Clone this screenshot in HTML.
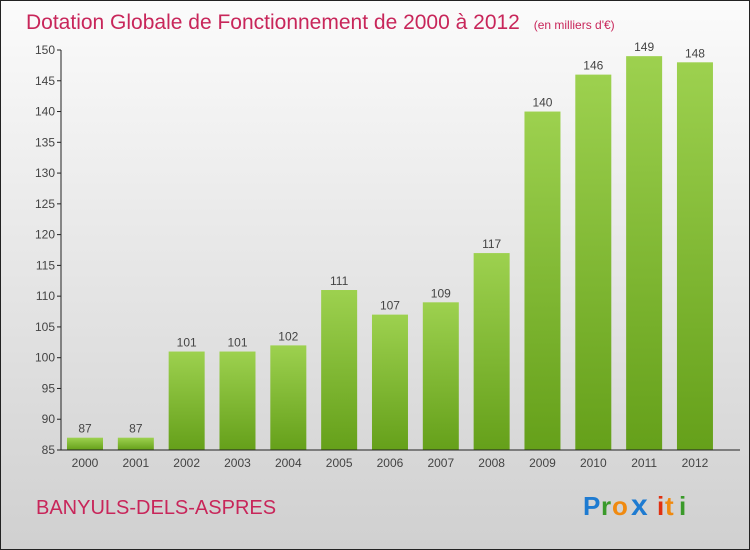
<!DOCTYPE html>
<html><head><meta charset="utf-8"><style>
body{margin:0;width:750px;height:550px;overflow:hidden}
svg{display:block;font-family:"Liberation Sans",sans-serif}
</style></head><body>
<svg id="c" width="750" height="550">
<defs>
<linearGradient id="bg" x1="0" y1="0" x2="0" y2="1"><stop offset="0" stop-color="#fbfbfb"/><stop offset="1" stop-color="#d0d0d0"/></linearGradient>
<linearGradient id="bar" x1="0" y1="0" x2="0" y2="1"><stop offset="0" stop-color="#9dd14f"/><stop offset="1" stop-color="#65a01a"/></linearGradient>
</defs>
<rect x="0.5" y="0.5" width="749" height="549" fill="url(#bg)" stroke="#222"/>
<text x="26" y="29" font-size="21" fill="#c8265a">Dotation Globale de Fonctionnement de 2000 à 2012 <tspan font-size="12" dx="8">(en milliers d'€)</tspan></text>
<text x="36" y="514" font-size="20" fill="#c8265a">BANYULS-DELS-ASPRES</text>
<g font-size="26" font-weight="bold">
<text x="583" y="515" fill="#1e7bd1">P</text><text x="601" y="515" fill="#3a9a2a">r</text><text x="612" y="515" fill="#f08a10">o</text><text x="631" y="515" fill="#1e7bd1" font-size="30">x</text><text x="657" y="515" fill="#e03010">i</text><text x="665" y="515" fill="#f08a10">t</text><text x="679" y="515" fill="#3a9a2a">i</text>
</g>
<g id="plot"></g>
</svg>
<script>
const categories=["2000","2001","2002","2003","2004","2005","2006","2007","2008","2009","2010","2011","2012"];
const values=[87,87,101,101,102,111,107,109,117,140,146,149,148];
const yTicks=[85,90,95,100,105,110,115,120,125,130,135,140,145,150];
const ns="http://www.w3.org/2000/svg";
const g=document.getElementById("plot");
const y=v=>450-(v-85)*400/65;
const x=i=>85+i*50.83;
function mk(t,a,p){const e=document.createElementNS(ns,t);for(const k in a)e.setAttribute(k,a[k]);(p||g).appendChild(e);return e;}
yTicks.forEach(t=>{
  const l=mk("line",{x1:57,x2:61,y1:y(t),y2:y(t),stroke:"#222"});
  
  
  const tx=mk("text",{x:55,y:y(t)+4,"text-anchor":"end","font-size":12,fill:"#444"});tx.textContent=t;
  
  
});
categories.forEach((c,i)=>{
  const v=values[i];
  const b=mk("rect",{x:x(i)-18,y:y(v),width:36,height:450-y(v),fill:"url(#bar)"});
  
  
  const vl=mk("text",{x:x(i),y:y(v)-5,"text-anchor":"middle","font-size":12,fill:"#444"});vl.textContent=v;
  
  
  const xl=mk("text",{x:x(i),y:467,"text-anchor":"middle","font-size":12,fill:"#444"});xl.textContent=c;
  
  
});
const ya=mk("line",{x1:61,x2:61,y1:50,y2:450,stroke:"#222"});


const xa=mk("line",{x1:61,x2:740,y1:450,y2:450,stroke:"#222"});


</script>
</body></html>
